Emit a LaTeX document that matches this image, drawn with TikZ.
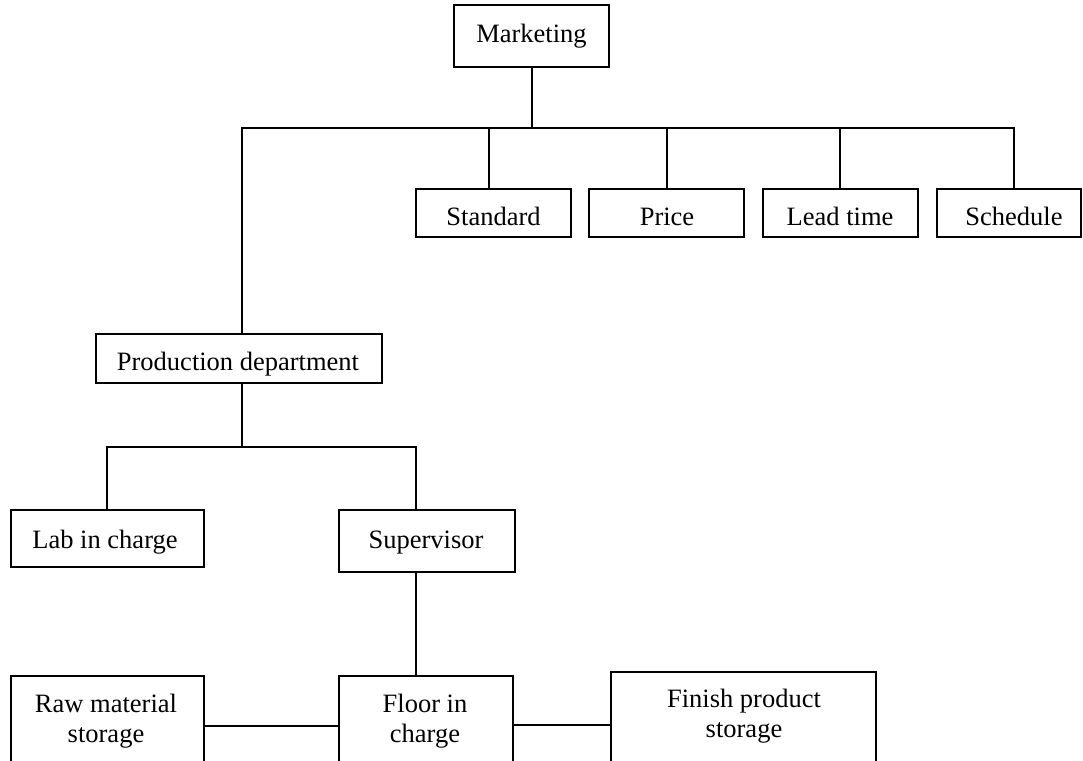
\documentclass[tikz,border=0pt]{standalone}
\usepackage{fontspec}
\setmainfont{Liberation Serif}
\begin{document}
\begin{tikzpicture}[x=1pt,y=-1pt,
  line width=1.8pt,
  box/.style={draw=black, line width=1.8pt, rectangle, inner sep=0pt},
  lbl/.style={anchor=base, inner sep=0pt, font=\fontsize{26.5}{30}\selectfont, align=center},
  link/.style={draw=black, line width=1.8pt}]
\useasboundingbox (0,0) rectangle (1083,760);

% boxes, given by their centres and sizes
\node[box] (mkt)   at (531.5,36) [minimum width=155pt, minimum height=62pt] {};
\node[box] (std)   at (493.5,213) [minimum width=155pt, minimum height=48pt] {};
\node[box] (price) at (666.5,213) [minimum width=155pt, minimum height=48pt] {};
\node[box] (lead)  at (840.5,213) [minimum width=155pt, minimum height=48pt] {};
\node[box] (sched) at (1009,213)  [minimum width=144pt, minimum height=48pt] {};
\node[box] (prod)  at (239,358.5) [minimum width=286pt, minimum height=49pt] {};
\node[box] (lab)   at (107.5,538.5) [minimum width=193pt, minimum height=57pt] {};
\node[box] (sup)   at (427,541)   [minimum width=176pt, minimum height=62pt] {};
\node[box] (raw)   at (107.5,725.5) [minimum width=193pt, minimum height=99pt] {};
\node[box] (floor) at (426,725.5) [minimum width=174pt, minimum height=99pt] {};
\node[box] (fin)   at (743.5,723.5) [minimum width=265pt, minimum height=103pt] {};

% labels (two-line labels sit on the baseline of their last line)
\node[lbl] (tmkt)   at (531.5,42) {Marketing};
\node[lbl] (tstd)   at (493.5,225) {Standard};
\node[lbl] (tprice) at (667,225)  {Price};
\node[lbl] (tlead)  at (840,225)  {Lead time};
\node[lbl] (tsched) at (1014,225) {Schedule};
\node[lbl] (tprod)  at (238,370)  {Production department};
\node[lbl] (tlab)   at (105,548)  {Lab in charge};
\node[lbl] (tsup)   at (426,548)  {Supervisor};
\node[lbl] (traw)   at (106,742)  {Raw material\\storage};
\node[lbl] (tfloor) at (425,742)  {Floor in\\charge};
\node[lbl] (tfin)   at (744,737)  {Finish product\\storage};

% bus points
\coordinate (busL)  at (242,128);
\coordinate (busM)  at (532,128);
\coordinate (busS)  at (489,128);
\coordinate (busP)  at (667,128);
\coordinate (busLt) at (840,128);
\coordinate (busR)  at (1014,128);
\coordinate (bus2m) at (242,447);
\coordinate (bus2L) at (107,447);
\coordinate (bus2R) at (416,447);

% marketing tree
\draw[link] (mkt.south -| busM) -- (busM);
\draw[link] (busL |- prod.north) -- (busL) -- (busR) -- (busR |- sched.north);
\draw[link] (busS) -- (busS |- std.north);
\draw[link] (busP) -- (busP |- price.north);
\draw[link] (busLt) -- (busLt |- lead.north);

% production tree
\draw[link] (prod.south -| bus2m) -- (bus2m);
\draw[link] (bus2L |- lab.north) -- (bus2L) -- (bus2R) -- (bus2R |- sup.north);
\draw[link] (sup.south -| bus2R) -- (bus2R |- floor.north);

% floor connections
\draw[link] (raw.east |- 0,726) -- (floor.west |- 0,726);
\draw[link] (floor.east |- 0,725) -- (fin.west |- 0,725);
\end{tikzpicture}
\end{document}
